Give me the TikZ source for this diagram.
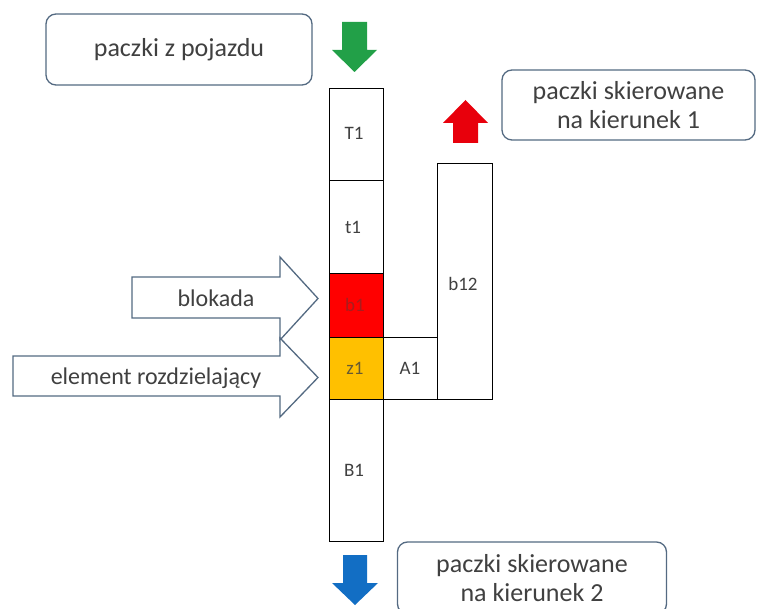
\documentclass[tikz,border=0pt]{standalone}
\usepackage{fontspec}
\setmainfont{Carlito}
\definecolor{txt}{RGB}{64,64,64}
\definecolor{frame}{RGB}{84,106,130}
\definecolor{goin}{RGB}{34,160,72}
\definecolor{goup}{RGB}{232,0,12}
\definecolor{godown}{RGB}{18,110,196}
\definecolor{blockred}{RGB}{255,0,0}
\definecolor{splitter}{RGB}{255,192,0}
\tikzset{
  infobox/.style={draw=frame, line width=1.3pt, rounded corners=10pt, fill=white,
    text=txt, align=center, font=\fontsize{26}{29}\selectfont},
  cell/.style={draw=black, line width=1.4pt, inner sep=0pt},
  celltext/.style={text=txt, font=\fontsize{19}{22}\selectfont, inner sep=0pt},
  blockarrow/.style={draw=frame, line width=1.3pt, fill=white, line join=miter},
  arrowtext/.style={text=txt, font=\fontsize{24}{28}\selectfont}
}
\begin{document}
\begin{tikzpicture}[x=1pt,y=-1pt]
\useasboundingbox (0,0) rectangle (758,609);
\fill[white] (0,0) rectangle (758,609);

% information boxes
\node[infobox, minimum width=266pt, minimum height=71pt] (src) at (179,49.5) {paczki z pojazdu};
\node[infobox, minimum width=253pt, minimum height=70pt] (dir1) at (628.5,105) {paczki skierowane\\na kierunek 1};
\node[infobox, minimum width=269pt, minimum height=72pt] (dir2) at (532,578) {paczki skierowane\\na kierunek 2};

% flow arrows
\fill[goin] (342,22) -- (367,22) -- (367,50) -- (377,50) -- (354.5,72) -- (332,50) -- (342,50) -- cycle;
\fill[goup] (453,143) -- (478,143) -- (478,123) -- (488,123) -- (465.5,100) -- (443,123) -- (453,123) -- cycle;
\fill[godown] (343,555) -- (367,555) -- (367,583) -- (378,583) -- (355,605) -- (332,583) -- (343,583) -- cycle;

% main column of cells
\node[cell, minimum width=54pt, minimum height=92pt, anchor=north west] (T1) at (329,88) {};
\node[cell, minimum width=54pt, minimum height=93pt, anchor=north west] (t1) at (329,180) {};
\node[cell, fill=blockred, minimum width=54pt, minimum height=64pt, anchor=north west] (b1) at (329,273) {};
\node[cell, fill=splitter, minimum width=54pt, minimum height=62pt, anchor=north west] (z1) at (329,337) {};
\node[cell, minimum width=54pt, minimum height=142pt, anchor=north west] (B1) at (329,399) {};
\node[cell, minimum width=54pt, minimum height=62pt, anchor=north west] (A1) at (383,337) {};
\node[cell, minimum width=55pt, minimum height=236pt, anchor=north west] (b12) at (437,163) {};

\node[celltext] (lT1) at (354,133) {T1};
\node[celltext] (lt1) at (353,227) {t1};
\node[celltext, text=txt!45!red] (lb1) at (355,305) {b1};
\node[celltext, text=txt!80!splitter] (lz1) at (355,368) {z1};
\node[celltext] (lA1) at (410,368) {A1};
\node[celltext] (lb12) at (463,284) {b12};
\node[celltext] (lB1) at (354,470) {B1};

% block arrows pointing at b1 and z1
\draw[blockarrow] (132,277) -- (280,277) -- (280,257) -- (318,298.5) -- (280,340) -- (280,318) -- (132,318) -- cycle;
\node[arrowtext] (lock) at (216,298) {blokada};
\draw[blockarrow] (13,356) -- (280,356) -- (280,338) -- (318,377.5) -- (280,417) -- (280,396) -- (13,396) -- cycle;
\node[arrowtext] (split) at (156,378) {element rozdzielający};
\end{tikzpicture}
\end{document}
